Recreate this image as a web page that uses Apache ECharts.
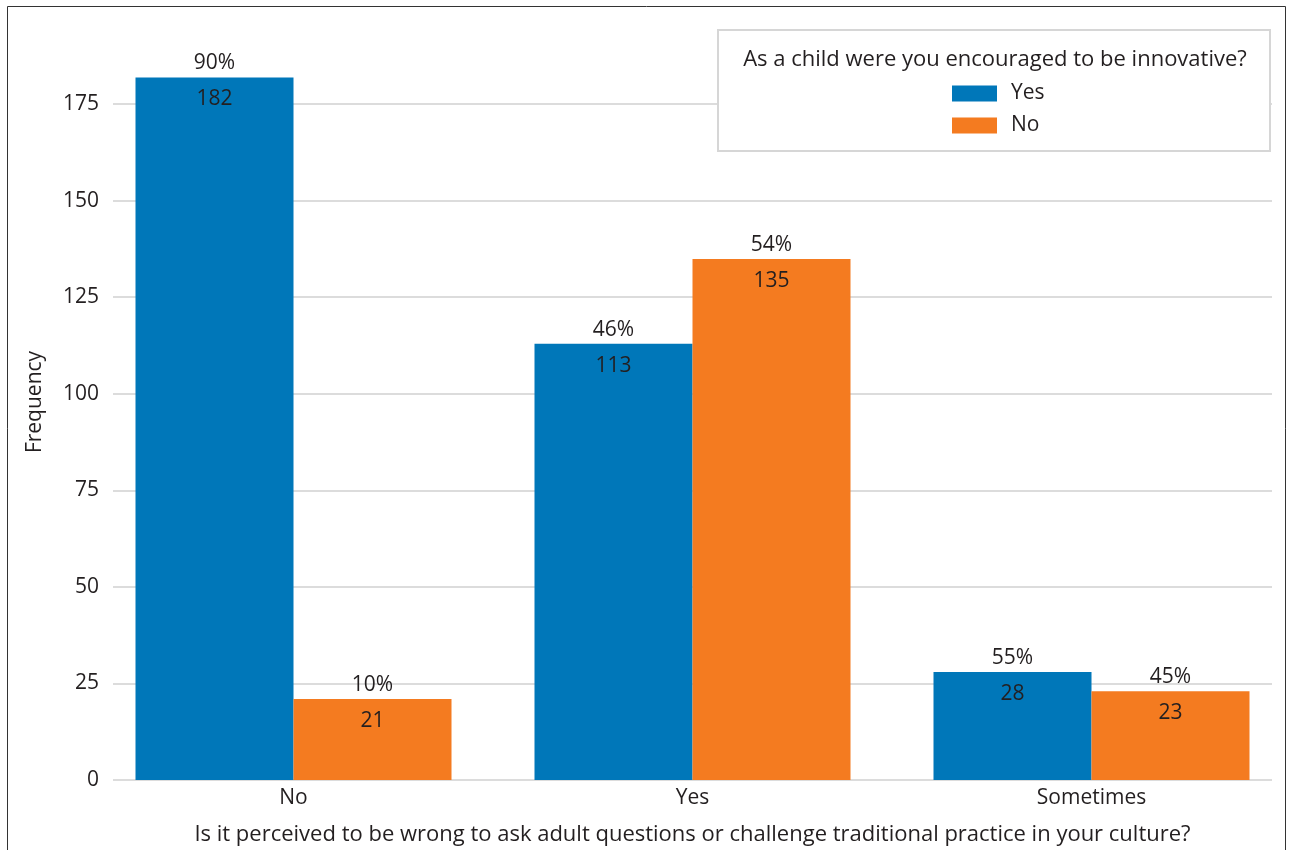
<!DOCTYPE html>
<html>
<head>
<meta charset="utf-8">
<script src="https://cdn.jsdelivr.net/npm/echarts@6/dist/echarts.min.js"></script>
<style>
  html, body { margin: 0; padding: 0; background: #fff; }
  #chart { width: 1293px; height: 850px; }
</style>
</head>
<body>
<div id="chart"></div>
<script>
const categories = ["No", "Yes", "Sometimes"];
const yesValues = [182, 113, 28];
const noValues = [21, 135, 23];
const yesPercent = [90, 46, 55];
const noPercent = [10, 54, 45];
const yTicks = [0, 25, 50, 75, 100, 125, 150, 175];

const FONT = "Open Sans";
const FS = 21;
const TEXT = "#231f20";

function barLabel(percents) {
	return {
		show: true,
		position: "top",
		distance: 5,
		offset: [0, 45],
		formatter: (p) => `{p|${percents[p.dataIndex]}%}\n{v|${p.value}}`,
		rich: {
			p: { fontSize: FS, lineHeight: 36, color: TEXT, fontFamily: FONT },
			v: { fontSize: FS, lineHeight: 36, color: TEXT, fontFamily: FONT },
		},
	};
}

const option = {
	animation: false,
	textStyle: { fontFamily: FONT },
	grid: [
		// bars
		{ left: 94, right: 2, top: 8, bottom: 70, outerBoundsMode: "none" },
		// gridlines + y labels
		{ left: 113, right: 21, top: 104, bottom: 70, outerBoundsMode: "none" },
	],
	legend: {
		orient: "vertical",
		left: 947,
		top: 78,
		z: 10,
		icon: "rect",
		itemWidth: 45,
		itemHeight: 16,
		itemGap: 11,
		textStyle: { fontSize: FS, color: TEXT, fontFamily: FONT, padding: [0, 0, 0, 9] },
		data: ["Yes", "No"],
	},
	xAxis: [
		{
			type: "category",
			gridIndex: 0,
			data: categories,
			axisLine: { show: false },
			axisTick: { show: false },
			axisLabel: { fontSize: FS, color: TEXT, margin: 8, fontFamily: FONT },
			name: "Is it perceived to be wrong to ask adult questions or challenge traditional practice in your culture?",
			nameLocation: "middle",
			nameGap: 44,
			nameTextStyle: { fontSize: 22, color: TEXT, fontFamily: FONT },
		},
		{
			type: "value",
			gridIndex: 1,
			show: false,
		},
	],
	yAxis: [
		{
			type: "value",
			gridIndex: 0,
			min: 0,
			max: 200,
			show: false,
		},
		{
			type: "value",
			gridIndex: 1,
			min: yTicks[0],
			max: yTicks[yTicks.length - 1],
			interval: 25,
			axisLine: { show: false },
			axisTick: { show: false },
			axisLabel: { fontSize: FS, color: TEXT, margin: 14, fontFamily: FONT },
			splitLine: { lineStyle: { color: "#d0d0d0", width: 1.5 } },
		},
	],
	series: [
		{
			name: "Yes",
			type: "bar",
			xAxisIndex: 0,
			yAxisIndex: 0,
			data: yesValues,
			barWidth: 158,
			barGap: "0%",
			itemStyle: { color: "#0077b9" },
			label: barLabel(yesPercent),
			z: 3,
		},
		{
			name: "No",
			type: "bar",
			xAxisIndex: 0,
			yAxisIndex: 0,
			data: noValues,
			barWidth: 158,
			barGap: "0%",
			itemStyle: { color: "#f47b20" },
			label: barLabel(noPercent),
			z: 3,
		},
	],
	graphic: [
		{
			type: "rect",
			shape: { x: 7.5, y: 6.5, width: 1278, height: 860 },
			style: { fill: "none", stroke: "#333", lineWidth: 1 },
			silent: true,
		},
		{
			type: "rect",
			shape: { x: 718, y: 30, width: 552, height: 121 },
			style: { fill: "#fff", stroke: "#d6d6d6", lineWidth: 2 },
			z: 5,
			silent: true,
		},
		{
			type: "text",
			x: 995,
			y: 60,
			z: 6,
			style: {
				text: "As a child were you encouraged to be innovative?",
				fontSize: 22,
				fontFamily: FONT,
				fill: TEXT,
				align: "center",
				verticalAlign: "middle",
			},
		},
		{
			type: "text",
			x: 35,
			y: 402,
			rotation: Math.PI / 2,
			style: {
				text: "Frequency",
				fontSize: FS,
				fontFamily: FONT,
				fill: TEXT,
				align: "center",
				verticalAlign: "middle",
			},
		},
	],
};

const chart = echarts.init(document.getElementById("chart"));
chart.setOption(option);
</script>
</body>
</html>
